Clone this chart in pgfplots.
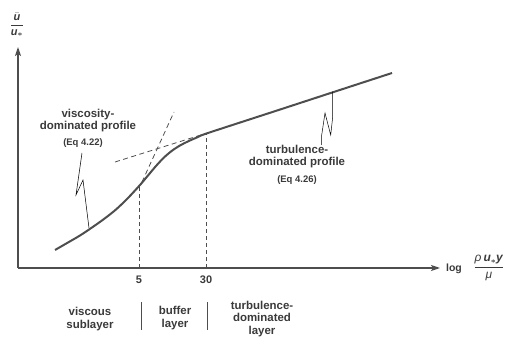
\documentclass[border=0pt]{standalone}
\usepackage{amsmath}
\usepackage{fontspec}
\setmainfont{Liberation Sans}
\usepackage{pgfplots}
\pgfplotsset{compat=1.18}
\usetikzlibrary{arrows.meta}
\definecolor{ink}{HTML}{4E4E4E}
\definecolor{txt}{HTML}{3A3A3A}
\definecolor{thin}{HTML}{8A8A8A}
\newcommand{\bi}[1]{\textbf{\textit{#1}}}
\begin{document}
\begin{tikzpicture}
\begin{axis}[
  scale only axis, width=422bp, height=221bp,
  xmin=0, xmax=422, ymin=0, ymax=221,
  axis lines=left,
  axis line style={ink, line width=1.3bp, -{Stealth[length=9bp,width=6bp,inset=2bp]}},
  xtick={121,188}, xticklabels={5,30}, ytick=\empty,
  major tick length=0,
  xticklabel style={font=\fontsize{11}{12}\selectfont\bfseries, text=txt, yshift=-4bp},
  clip=false,
]
% main velocity profile
\addplot[ink, line width=2bp, smooth] coordinates {
  (37,18) (50,25.5) (62,32.5) (74,40.5) (86,49) (98,58.5) (110,70) (122,83)
  (130,92.5) (138,102) (146,110.5) (154,117.3) (162,122.5) (170,126.6)
  (180,131) (190,135) (260,157.8) (320,177.4) (374,195)};
% dashed extensions
\addplot[ink, line width=0.8bp, dash pattern=on 5bp off 3.5bp] coordinates {(97,106) (202,139)};
\addplot[ink, line width=0.8bp, dash pattern=on 5bp off 3.5bp] coordinates {(124,86) (156,156)};
% vertical dashed markers
\addplot[ink, line width=0.7bp, dash pattern=on 4bp off 3bp] coordinates {(121,0) (121,82)};
\addplot[ink, line width=0.7bp, dash pattern=on 4bp off 3bp] coordinates {(188,0) (188,134)};
% region separators
\addplot[ink, line width=0.9bp] coordinates {(123,-34) (123,-62)};
\addplot[ink, line width=0.9bp] coordinates {(189,-34) (189,-62)};
% annotation squiggles
\addplot[thin, line width=0.5bp] coordinates {(64,115) (58,73) (65,88) (71,40)};
\addplot[thin, line width=0.5bp] coordinates {(303.7,123) (303.7,133) (307,155) (312.7,133) (314.7,151) (314.7,176.3)};
% texts
\node[text=txt, align=center, font=\fontsize{11.5}{12}\selectfont\bfseries] at (axis cs:70,147.5) {viscosity-\\dominated profile};
\node[text=txt, font=\fontsize{9.5}{10}\selectfont\bfseries] at (axis cs:65,125) {(Eq 4.22)};
\node[text=txt, align=center, font=\fontsize{11.5}{12}\selectfont\bfseries] at (axis cs:279,111.5) {turbulence-\\dominated profile};
\node[text=txt, font=\fontsize{9.5}{10}\selectfont\bfseries] at (axis cs:279,88) {(Eq 4.26)};
\node[text=txt, align=center, font=\fontsize{11.5}{12.5}\selectfont\bfseries] at (axis cs:72,-51) {viscous\\sublayer};
\node[text=txt, align=center, font=\fontsize{11.5}{12.5}\selectfont\bfseries] at (axis cs:157,-50) {buffer\\layer};
\node[text=txt, align=center, font=\fontsize{11.5}{13}\selectfont\bfseries] at (axis cs:244,-51) {turbulence-\\dominated\\layer};
\node[text=txt, font=\fontsize{10.5}{12}\selectfont\bfseries] at (axis cs:436,-1) {log};
\node[text=txt, font=\fontsize{12}{14}\selectfont] at (axis cs:471,0) {$\dfrac{\textit{ρ}\,\bi{u}_{\boldsymbol{*}}\bi{y}}{\textit{μ}}$};
\node[text=txt, font=\fontsize{11}{13}\selectfont] at (axis cs:-1,243) {$\dfrac{\bar{\bi{u}}}{\bi{u}_{\boldsymbol{*}}}$};
\coordinate (bl) at (axis cs:-18,-80);
\coordinate (tr) at (axis cs:496,268);
\end{axis}
\pgfresetboundingbox
\path[use as bounding box] (bl) rectangle (tr);
\end{tikzpicture}
\end{document}
